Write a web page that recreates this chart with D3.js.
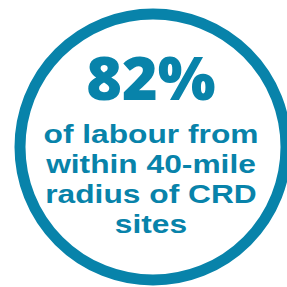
<!DOCTYPE html>
<html>
<head>
<meta charset="utf-8">
<script src="https://cdn.jsdelivr.net/npm/d3@7"></script>
<style>
  body { margin: 0; background: #fff; }
  svg { display: block; }
</style>
</head>
<body>
<div id="chart"></div>
<script>
(function(){
  var width = 287;
  var height = 287;

  // figures
  var headline = ["82%"];
  var captionLines = ["of labour from", "within 40-mile", "radius of CRD", "sites"];

  var blue = "#0883aa";

  let svg = d3.select("#chart")
    .append("svg")
      .attr("width", width)
      .attr("height", height);

  // ring
  svg.append("circle")
    .attr("cx", 153)
    .attr("cy", 147)
    .attr("r", 133)
    .attr("fill", "#fff")
    .attr("stroke", blue)
    .attr("stroke-width", 11);

  svg.selectAll(".headline")
    .data(headline)
    .enter().append("text")
      .attr("class", "headline")
      .attr("x", 151)
      .attr("y", 100)
      .attr("text-anchor", "middle")
      .style("font", "800 61px 'Open Sans', sans-serif")
      .attr("fill", blue)
      .text(function(d) { return d; });

  // caption line positions
  let y = d3.scalePoint()
    .domain(d3.range(captionLines.length))
    .range([143, 233]);

  // the original face is wider than anything installed, so stretch a little
  let cap = svg.append("g")
    .attr("transform", "translate(151,0) scale(1.22,1)");

  cap.selectAll(".caption")
    .data(captionLines)
    .enter().append("text")
      .attr("class", "caption")
      .attr("x", 0)
      .attr("y", function(d, i) { return y(i); })
      .attr("text-anchor", "middle")
      .style("font", "700 26px 'Liberation Sans', Arial, sans-serif")
      .attr("fill", blue)
      .text(function(d) { return d; });
})();
</script>
</body>
</html>
